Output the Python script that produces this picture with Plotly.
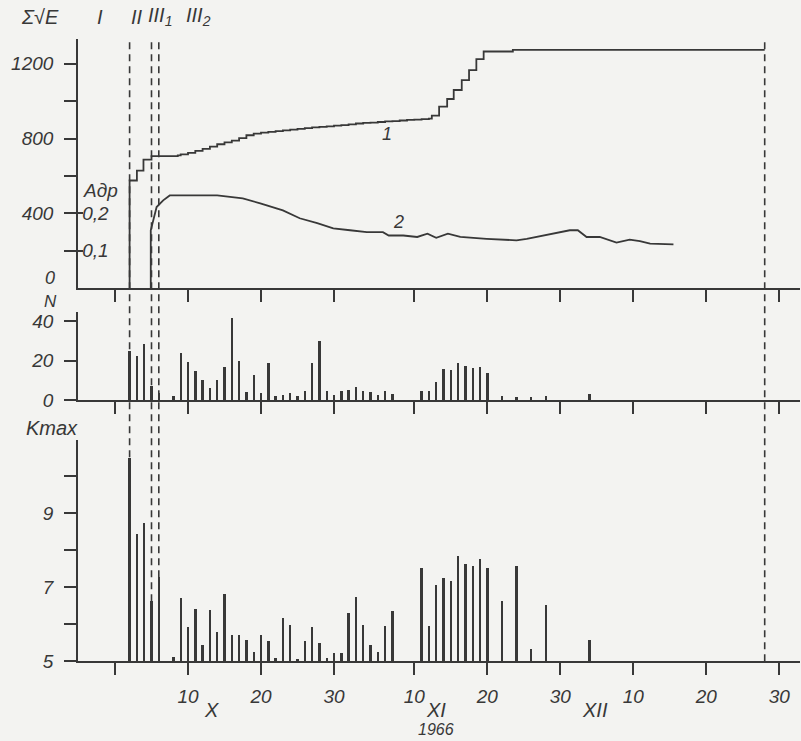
import plotly.graph_objects as go

# ---------------- data ----------------
# x = day counted from 1 Oct 1966 (Nov 10 = day 41, Dec 10 = day 71)
x_tick_vals = [0, 10, 20, 30, 41, 51, 61, 71, 81, 91]
x_tick_text = ["", "10", "20", "30", "10", "20", "30", "10", "20", "30"]
month_labels = ["X", "XI", "XII"]
year_label = "1966"
phase_labels = ["I", "II", "III<sub>1</sub>", "III<sub>2</sub>"]
boundary_days = [2, 5, 6, 89]

# curve 1: cumulative sum of sqrt(E)
sum_days = [2, 2, 3.0, 3.9, 5.0, 8.6, 9, 10, 11, 12, 13, 14, 15, 16, 17, 18, 19, 20,
            21, 22, 23, 24, 25, 26, 27, 28, 29, 30, 31, 32, 33, 34, 35, 36, 37, 38,
            39, 40, 41, 42, 43, 43.4, 44.4, 45.5, 46.4, 47.5, 48.5, 49.5, 50.5, 54.5, 89]
sum_values = [0, 576, 629, 688, 706, 710, 716, 724, 735, 745, 757, 770, 780, 789, 803,
              818, 827, 832, 836, 840, 844, 848, 852, 856, 860, 863, 866, 869, 872, 876,
              881, 884, 886, 889, 892, 894, 897, 900, 902, 904, 907, 923, 971, 1012,
              1060, 1113, 1166, 1225, 1266, 1275, 1275]

# curve 2: A_dr
adp_days = [4.9, 4.9, 5.7, 6.6, 7.5, 10, 12.5, 14, 17.5, 19.9, 23, 25.3, 27.7, 29.9,
            32.2, 34.5, 36.7, 37.5, 39.5, 41.4, 42.8, 44, 45.6, 47.3, 50.9, 55, 56.4,
            60, 62.3, 63.4, 64.6, 66.4, 68.7, 70.5, 71.9, 73.3, 76.5]
adp_values = [0, 0.155, 0.217, 0.235, 0.248, 0.248, 0.25, 0.248, 0.24, 0.227, 0.208,
              0.187, 0.174, 0.16, 0.155, 0.15, 0.15, 0.141, 0.141, 0.137, 0.146, 0.135,
              0.146, 0.137, 0.132, 0.128, 0.132, 0.146, 0.155, 0.155, 0.137, 0.137,
              0.122, 0.13, 0.126, 0.119, 0.117]

# N per day
n_days = [2, 3, 4, 5, 6, 8, 9, 10, 11, 12, 13, 14, 15, 16, 17, 18, 19, 20, 21, 22, 23,
          24, 25, 26, 27, 28, 29, 30, 31, 32, 33, 34, 35, 36, 37, 38, 42, 43, 44, 45,
          46, 47, 48, 49, 50, 51, 53, 55, 57, 59, 65]
n_values = [25, 22, 28.5, 7, 3.5, 1.7, 23.5, 19, 14.5, 10, 6, 10, 16.5, 41.5, 19.5, 4,
            12.7, 3.5, 18.6, 1.7, 2.5, 3.4, 1.7, 4.3, 18.6, 30, 4.5, 2.5, 4.5, 5, 6.5,
            4.5, 3.7, 2.2, 4.3, 3, 4.5, 4.5, 8.8, 15.5, 15.2, 18.6, 16.9, 16, 16.4,
            13.8, 2, 1.2, 1.4, 2, 3]

# K max per day
k_days = [2, 3, 4, 5, 6, 8, 9, 10, 11, 12, 13, 14, 15, 16, 17, 18, 19, 20, 21, 22, 23,
          24, 25, 26, 27, 28, 29, 30, 31, 32, 33, 34, 35, 36, 37, 38, 42, 43, 44, 45,
          46, 47, 48, 49, 50, 51, 53, 55, 57, 59, 65]
k_values = [10.5, 8.43, 8.73, 6.62, 7.29, 5.12, 6.71, 5.94, 6.41, 5.45, 6.39, 5.79,
            6.82, 5.72, 5.72, 5.57, 5.25, 5.72, 5.54, 5.09, 6.17, 5.99, 5.06, 5.56,
            5.93, 5.51, 5.09, 5.24, 5.24, 6.32, 6.74, 5.98, 5.45, 5.26, 5.96, 6.37,
            7.52, 5.97, 7.07, 7.25, 7.16, 7.85, 7.63, 7.59, 7.77, 7.53, 6.64, 7.58,
            5.33, 6.53, 5.57]

top_tick_vals = [200, 400, 600, 800, 1000, 1200]
top_tick_text = ["", "400", "", "800", "", "1200"]
top_zero_label = "0"
adp_tick_vals = [0.1, 0.2]
adp_tick_text = ["0,1", "0,2"]
n_tick_vals = [0, 20, 40]
n_tick_text = ["0", "20", "40"]
k_tick_vals = [5, 6, 7, 8, 9, 10]
k_tick_text = ["5", "", "7", "", "9", ""]

# ---------------- style ----------------
W, H = 801, 741
H_EFF = 731  # measured vertical scale of the rendered page
INK = "#383838"
BG = "#f3f3f1"
FONT = "Liberation Sans"
tfont = dict(family=FONT, size=19, color=INK, style="italic")


def py(pix):
    return 1 - pix / H_EFF


X0, X1 = 78, 800
day_px = 7.3
day0_px = 115
x_range = [(X0 - day0_px) / day_px, (X1 - day0_px) / day_px]
x_dom = [X0 / W, X1 / W]

fig = go.Figure()

fig.add_trace(go.Scatter(x=sum_days, y=sum_values, mode="lines", line_shape="hv",
                         line=dict(color=INK, width=1.8), xaxis="x", yaxis="y",
                         showlegend=False))
fig.add_trace(go.Scatter(x=adp_days, y=adp_values, mode="lines",
                         line=dict(color=INK, width=1.8), xaxis="x", yaxis="y4",
                         showlegend=False))
fig.add_trace(go.Bar(x=n_days, y=n_values, width=0.33, marker=dict(color=INK, line_width=0),
                     xaxis="x2", yaxis="y2", showlegend=False))
fig.add_trace(go.Bar(x=k_days, y=k_values, width=0.33, marker=dict(color=INK, line_width=0),
                     xaxis="x3", yaxis="y3", showlegend=False))

xcommon = dict(domain=x_dom, range=x_range, showline=True, linecolor=INK, linewidth=1.6,
               ticks="outside", ticklen=12, tickwidth=1.5, tickcolor=INK,
               tickvals=x_tick_vals, ticktext=x_tick_text, showgrid=False, zeroline=False,
               tickfont=tfont)
ycommon = dict(showline=True, linecolor=INK, linewidth=1.6, ticks="outside", ticklen=12,
               tickwidth=1.5, tickcolor=INK, showgrid=False, zeroline=False, tickfont=tfont,
               ticklabelstandoff=7)

top_max = (288 - 38) / 75 * 400
n_max = (400 - 312) / 39.5 * 20
k_max = 5 + (662 - 440) / 37.1

fig.update_layout(
    width=W, height=H, autosize=False, margin=dict(l=0, r=0, t=0, b=0),
    paper_bgcolor=BG, plot_bgcolor="rgba(0,0,0,0)", bargap=0,
    xaxis=dict(**xcommon, anchor="y", showticklabels=False),
    xaxis2=dict(**xcommon, anchor="y2", showticklabels=False),
    xaxis3=dict(**xcommon, anchor="y3", showticklabels=True, ticklabelstandoff=5),
    yaxis=dict(**ycommon, anchor="x", domain=[py(288), py(38)], range=[0, top_max],
               tickvals=top_tick_vals, ticktext=top_tick_text),
    yaxis4=dict(overlaying="y", anchor="x", side="left", range=[0, top_max / 2000],
                tickvals=adp_tick_vals, ticktext=adp_tick_text, ticks="inside",
                ticklen=5, tickwidth=1.5, tickcolor=INK, ticklabelposition="inside",
                showline=False, showgrid=False, zeroline=False, tickfont=tfont),
    yaxis2=dict(**ycommon, anchor="x2", domain=[py(400), py(312)], range=[0, n_max],
                tickvals=n_tick_vals, ticktext=n_tick_text),
    yaxis3=dict(**ycommon, anchor="x3", domain=[py(662), py(440)], range=[5, k_max],
                tickvals=k_tick_vals, ticktext=k_tick_text),
)

# dashed boundaries spanning all panels
for d in boundary_days:
    fig.add_shape(type="line", xref="x", yref="paper", x0=d, x1=d, y0=py(662), y1=py(37),
                  line=dict(color=INK, width=1.6, dash="7px,5px"))

afont = dict(family=FONT, size=18, color=INK, style="italic")


def ann(text, x, y, xref="paper", yref="paper", size=18, **kw):
    f = dict(afont)
    f["size"] = size
    fig.add_annotation(text=text, x=x, y=y, xref=xref, yref=yref, showarrow=False,
                       xanchor="center", yanchor="middle", borderpad=0, font=f, **kw)


def dpx(pix):
    return (pix - day0_px) / day_px


ann("Σ√E", 40 / W, py(16), size=20)
for lab, px in zip(phase_labels, [100, 137, 160, 198]):
    ann(lab, dpx(px), py(16), xref="x", size=20)
ann(top_zero_label, 50 / W, py(278), size=18)
ann("Адр", 100 / W, py(190), size=19)
ann("1", dpx(387), (288 - 133) * 16 / 3, xref="x", yref="y")
ann("2", dpx(398), (288 - 222) * 16 / 3, xref="x", yref="y")
ann("N", 50 / W, py(301), size=17)
ann("Kmax", 52 / W, py(428), size=20)
for lab, px in zip(month_labels, [211, 436, 595]):
    ann(lab, dpx(px), py(711), xref="x", size=20)
ann(year_label, dpx(436), py(730), xref="x", size=16)

fig.write_html(
    "out.html",
    config={"displayModeBar": False, "responsive": False},
    post_script="document.body.style.margin='0';document.body.style.background='%s';" % BG,
)
